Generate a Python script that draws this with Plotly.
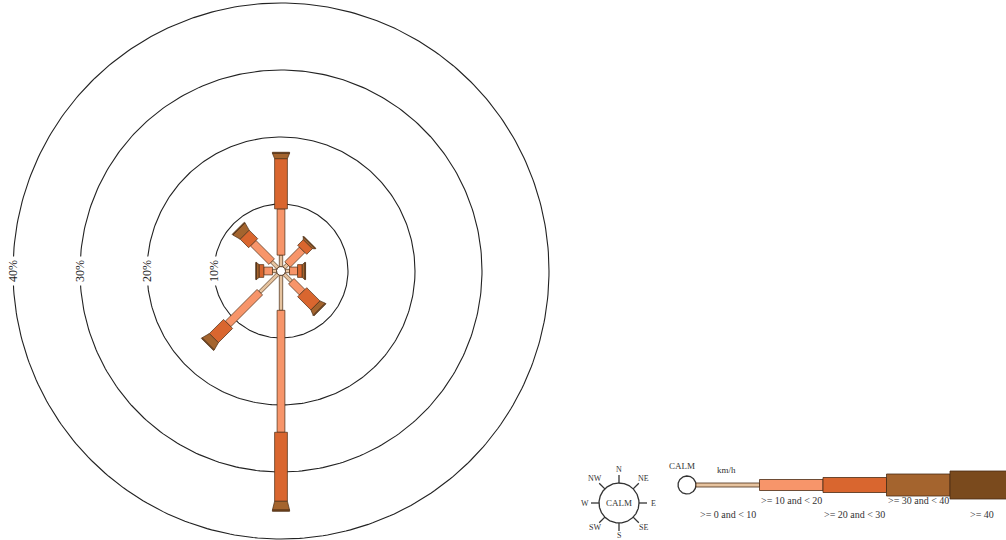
import numpy as np
import plotly.graph_objects as go

# ---------------- data ----------------
directions = ["N", "NE", "E", "SE", "S", "SW", "W", "NW"]
dir_angles = [0, 45, 90, 135, 180, 225, 270, 315]
speed_bins = [">= 0 and < 10", ">= 10 and < 20", ">= 20 and < 30", ">= 30 and < 40", ">= 40"]
freq_0_10 = [1.7, 0.7, 0.6, 1.5, 5.2, 3.8, 0.6, 1.3]
freq_10_20 = [6.9, 3.1, 1.2, 2.3, 18.2, 6.7, 1.3, 3.9]
freq_20_30 = [7.5, 1.2, 0.7, 2.8, 10.3, 3.0, 0.7, 1.8]
freq_30_40 = [0.8, 0.3, 0.4, 0.8, 1.3, 1.2, 0.4, 1.2]
freq_40 = [0.15, 0.1, 0.1, 0.15, 0.2, 0.15, 0.1, 0.15]
ring_values = [10, 20, 30, 40]
ring_labels = ["10%", "20%", "30%", "40%"]
unit_label = "km/h"
calm_label = "CALM"

# ---------------- style / layout ----------------
W, H = 1006, 540
PX = 6.7            # pixels per percent
CX, CY = 281, 271   # rose centre in pixels
colors = ["#e6c39f", "#f7956a", "#d9662f", "#a4642e", "#7a4a1d"]
outline = "#4a2c14"
half_w_in = [1.7, 3.9, 6.4, 6.4, 8.6]   # px half-widths (inner end)
half_w_out = [1.7, 3.9, 6.4, 8.6, 8.6]  # px half-widths (outer end)
calm_r = 4.5 / PX
serif = "Liberation Serif, Times New Roman, serif"


def X(px):
    return (px - CX) / PX


def Y(py):
    return (CY - py) / PX


fig = go.Figure()

# rings
t = np.linspace(0, 2 * np.pi, 361)
for rv in ring_values:
    fig.add_trace(go.Scatter(x=rv * np.cos(t), y=rv * np.sin(t), mode="lines",
                             line=dict(color="#222", width=1.1), hoverinfo="skip",
                             showlegend=False))

series = [freq_0_10, freq_10_20, freq_20_30, freq_30_40, freq_40]

# bars
for d, ang in enumerate(dir_angles):
    th = np.radians(ang)
    u = np.array([np.sin(th), np.cos(th)])
    p = np.array([np.cos(th), -np.sin(th)])
    r0 = calm_r
    for b, s in enumerate(series):
        r1 = r0 + s[d]
        h0 = half_w_in[b] / PX
        h1 = half_w_out[b] / PX
        pts = [r0 * u + h0 * p, r1 * u + h1 * p, r1 * u - h1 * p, r0 * u - h0 * p, r0 * u + h0 * p]
        xs = [q[0] for q in pts]
        ys = [q[1] for q in pts]
        fig.add_trace(go.Scatter(x=xs, y=ys, mode="lines", fill="toself",
                                 fillcolor=colors[b], line=dict(color=outline, width=0.7),
                                 hoverinfo="skip", showlegend=False))
        r0 = r1

# calm circle in centre
fig.add_trace(go.Scatter(x=calm_r * np.cos(t), y=calm_r * np.sin(t), mode="lines",
                         fill="toself", fillcolor="white",
                         line=dict(color=outline, width=0.8), hoverinfo="skip", showlegend=False))

annotations = []
for rv, lab in zip(ring_values, ring_labels):
    annotations.append(dict(x=-rv, y=0, text=lab, showarrow=False, textangle=-90,
                            font=dict(family=serif, size=12, color="#222"),
                            bgcolor="white", borderpad=3, xref="x", yref="y"))

# ---------------- compass icon ----------------
ccx, ccy, cr = 619, 503, 20
fig.add_trace(go.Scatter(x=X(ccx + cr * np.cos(t)), y=Y(ccy + cr * np.sin(t)), mode="lines",
                         line=dict(color="#333", width=1.3), hoverinfo="skip", showlegend=False))
for name, ang in zip(directions, dir_angles):
    th = np.radians(ang)
    sx, sy = np.sin(th), -np.cos(th)
    fig.add_trace(go.Scatter(x=[X(ccx + cr * sx), X(ccx + (cr + 8) * sx)],
                             y=[Y(ccy + cr * sy), Y(ccy + (cr + 8) * sy)], mode="lines",
                             line=dict(color="#333", width=1.3), hoverinfo="skip", showlegend=False))
    lr_ = 32 if name == "S" else 34
    annotations.append(dict(x=X(ccx + lr_ * sx), y=Y(ccy + lr_ * sy), text=name, showarrow=False,
                            font=dict(family=serif, size=8, color="#333"), xref="x", yref="y"))
annotations.append(dict(x=X(ccx), y=Y(ccy), text=calm_label, showarrow=False,
                        font=dict(family=serif, size=9, color="#333"), xref="x", yref="y"))

# ---------------- speed legend bar ----------------
lcx, lcy, lr = 687, 485, 9
fig.add_trace(go.Scatter(x=X(lcx + lr * np.cos(t)), y=Y(lcy + lr * np.sin(t)), mode="lines",
                         fill="toself", fillcolor="white",
                         line=dict(color="#333", width=1.3), hoverinfo="skip", showlegend=False))
seg_start, seg_len = lcx + lr, 63.5
leg_half_h = [2, 5.5, 7.5, 11, 14]
for b, lab in enumerate(speed_bins):
    x0 = seg_start + b * seg_len
    x1 = x0 + seg_len
    hh = leg_half_h[b]
    fig.add_trace(go.Scatter(x=[X(x0), X(x1), X(x1), X(x0), X(x0)],
                             y=[Y(lcy - hh), Y(lcy - hh), Y(lcy + hh), Y(lcy + hh), Y(lcy - hh)],
                             mode="lines", fill="toself", fillcolor=colors[b],
                             line=dict(color=outline, width=0.8), hoverinfo="skip", showlegend=False))
    ly = 500 if b % 2 == 1 else 514
    annotations.append(dict(x=X((x0 + x1) / 2), y=Y(ly), text=lab, showarrow=False,
                            font=dict(family=serif, size=10, color="#333"), xref="x", yref="y"))
annotations.append(dict(x=X(682), y=Y(466), text=calm_label, showarrow=False,
                        font=dict(family=serif, size=9, color="#333"), xref="x", yref="y"))
annotations.append(dict(x=X(726), y=Y(470), text=unit_label, showarrow=False,
                        font=dict(family=serif, size=9, color="#333"), xref="x", yref="y"))

fig.update_layout(
    width=W, height=H, margin=dict(l=0, r=0, t=0, b=0),
    paper_bgcolor="white", plot_bgcolor="white",
    xaxis=dict(range=[X(0), X(W)], visible=False, fixedrange=True),
    yaxis=dict(range=[Y(H), Y(0)], visible=False, fixedrange=True),
    annotations=annotations, showlegend=False,
)

fig.write_html(
    "out.html",
    config={"displayModeBar": False},
    post_script="document.body.style.margin='0';document.body.style.overflow='hidden';",
)
